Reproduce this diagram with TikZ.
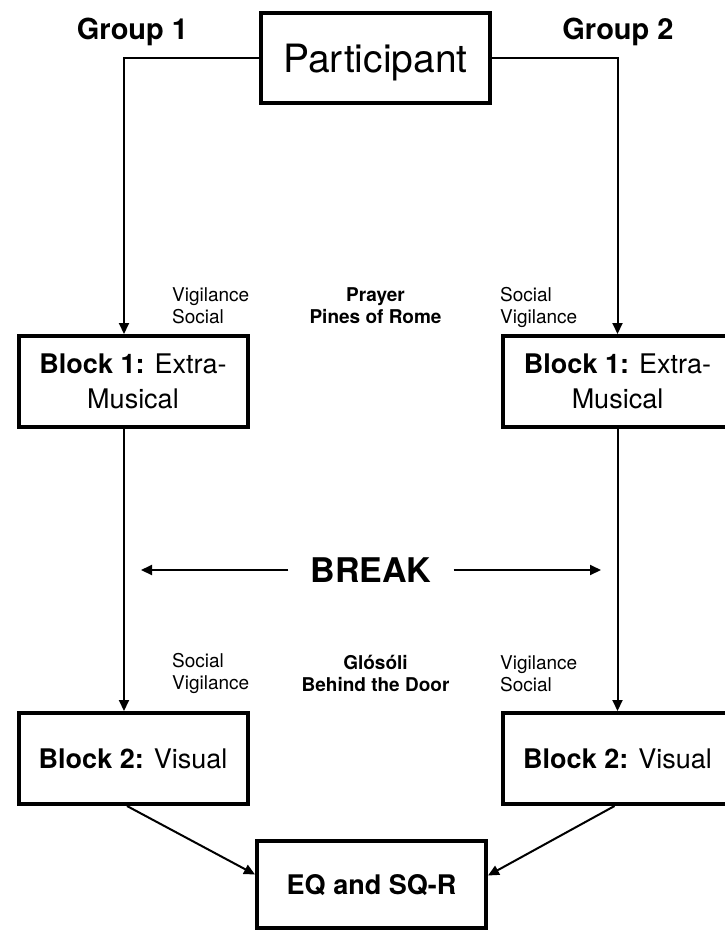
\documentclass[tikz,border=0pt]{standalone}
\usepackage{fontspec}
\setmainfont{TeX Gyre Heros}
\usetikzlibrary{arrows.meta}
\tikzset{
  box/.style={draw, line width=4pt, minimum width=229pt, minimum height=91pt, inner sep=0pt, align=center, text depth=0pt},
  arr/.style={line width=2pt, -{Triangle[length=11pt,width=10pt]}},
  plain/.style={line width=2pt},
  big/.style={font=\fontsize{27}{35}\selectfont},
  small/.style={font=\fontsize{19}{22}\selectfont, inner sep=0pt, align=left, anchor=west},
  smallc/.style={font=\fontsize{19}{22}\selectfont\bfseries, inner sep=0pt, align=center},
  grp/.style={font=\fontsize{29}{34}\selectfont\bfseries, inner sep=0pt, anchor=base}
}
\begin{document}
\begin{tikzpicture}[x=1pt,y=-1pt]
\useasboundingbox (0,0) rectangle (725,932);
\fill[white] (0,0) rectangle (725,932);

\node[box, minimum height=90pt, font=\fontsize{39}{45}\selectfont] (P) at (375.5,58) {Participant};
\node[grp] (g1) at (132.5,39) {Group 1};
\node[grp] (g2) at (618,39) {Group 2};

\node[box, big] (B1L) at (133,381.5) {\textbf{Block 1:} Extra-\\Musical};
\node[box, big] (B1R) at (617.5,381.5) {\textbf{Block 1:} Extra-\\Musical};
\node[box, big] (B2L) at (133,758.5) {\textbf{Block 2:} Visual};
\node[box, big] (B2R) at (617.5,758.5) {\textbf{Block 2:} Visual};
\node[box, big, minimum height=87pt, font=\fontsize{27}{35}\selectfont\bfseries] (EQ) at (371.5,884.5) {EQ and SQ-R};

\node[small] (l1) at (172,306) {Vigilance\\Social};
\node[smallc] (m1) at (375.5,306) {Prayer\\Pines of Rome};
\node[small] (r1) at (500,307) {Social\\Vigilance};

\node[small] (l2) at (172,673.5) {Social\\Vigilance};
\node[smallc] (m2) at (375.5,673.5) {Glósóli\\Behind the Door};
\node[small] (r2) at (500,673.5) {Vigilance\\Social};

\node[font=\fontsize{34}{40}\selectfont\bfseries, inner xsep=22pt, inner ysep=0pt] (brk) at (371,570) {BREAK};
\coordinate (bl) at (141,570);
\coordinate (br) at (601,570);

\draw[arr] (P.west) -| ([xshift=-9pt]B1L.north);
\draw[arr] (P.east) -| (B1R.north);
\draw[arr] ([xshift=-9pt]B1L.south) -- ([xshift=-9pt]B2L.north);
\draw[arr] (B1R.south) -- (B2R.north);
\draw[arr] (brk.west) -- (bl);
\draw[arr] (brk.east) -- (br);
\draw[arr] ([xshift=-6pt]B2L.south) -- ([yshift=10pt]EQ.west);
\draw[arr] ([xshift=-3pt]B2R.south) -- ([yshift=9pt]EQ.east);
\end{tikzpicture}
\end{document}
